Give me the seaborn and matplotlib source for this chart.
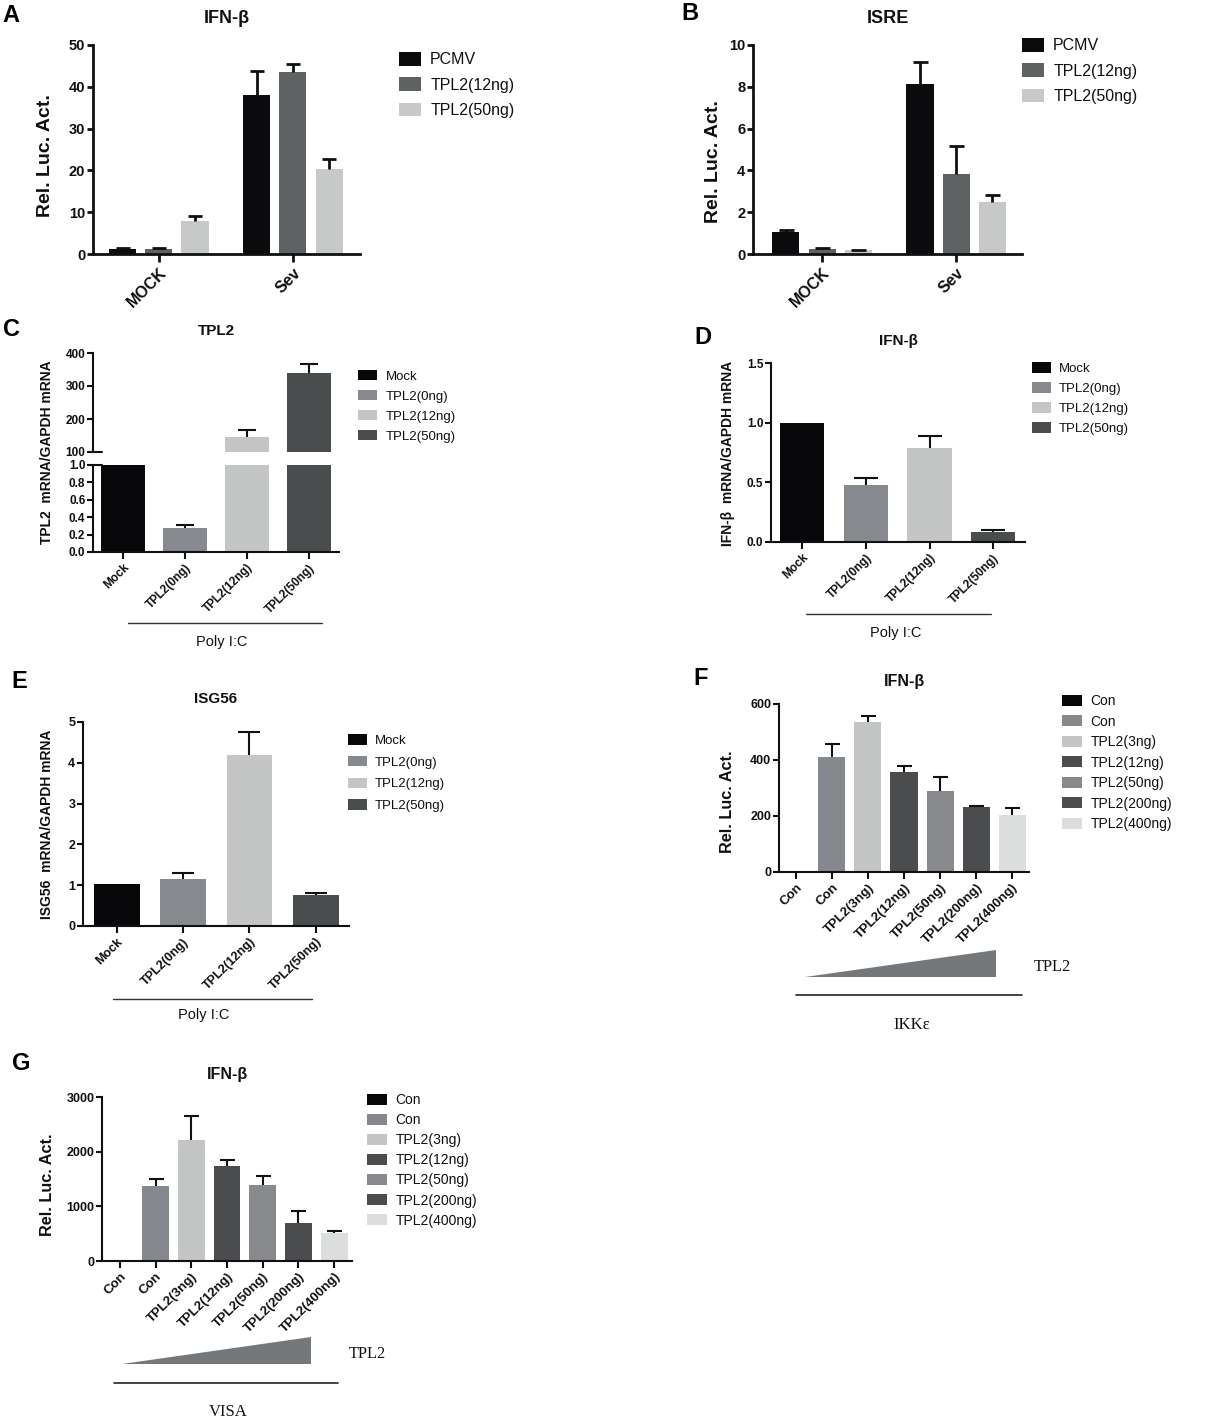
import numpy as np
import pandas as pd
import matplotlib
matplotlib.use("Agg")
import matplotlib.pyplot as plt
import matplotlib.transforms as mtransforms
from matplotlib.lines import Line2D
from matplotlib.patches import Polygon
import seaborn as sns

# ---------------- data ----------------
ab_groups = ["MOCK", "Sev"]
ab_series = ["PCMV", "TPL2(12ng)", "TPL2(50ng)"]
ab_colors = ["#0b0b0e", "#5f6263", "#c7c8c8"]
a_values = [[1.2, 38.0], [1.1, 43.5], [8.0, 20.4]]
a_errors = [[0.3, 5.7], [0.3, 2.0], [1.1, 2.3]]
b_values = [[1.07, 8.13], [0.24, 3.84], [0.17, 2.47]]
b_errors = [[0.08, 1.07], [0.03, 1.34], [0.01, 0.35]]

pic_labels = ["Mock", "TPL2(0ng)", "TPL2(12ng)", "TPL2(50ng)"]
pic_colors = ["#07070a", "#86898d", "#c4c5c5", "#4a4d4e"]
c_values = [1.0, 0.275, 145.0, 338.0]
c_errors = [0.0, 0.03, 23.0, 29.0]
d_values = [1.0, 0.478, 0.79, 0.087]
d_errors = [0.0, 0.061, 0.095, 0.016]
e_values = [1.02, 1.15, 4.18, 0.75]
e_errors = [0.0, 0.15, 0.57, 0.05]

dose_labels = ["Con", "Con", "TPL2(3ng)", "TPL2(12ng)", "TPL2(50ng)", "TPL2(200ng)", "TPL2(400ng)"]
dose_colors = ["#07070a", "#85888c", "#c4c5c5", "#4a4c4e", "#87898d", "#4a4c4e", "#dcdddd"]
f_values = [1, 409, 535, 356, 290, 232, 202]
f_errors = [0, 49, 23, 21, 48, 3, 26]
g_values = [3, 1372, 2210, 1743, 1390, 704, 516]
g_errors = [0, 134, 449, 103, 170, 219, 37]

# ---------------- setup ----------------
sns.set_theme(style="ticks")
plt.rcParams["font.family"] = ["Liberation Sans", "DejaVu Sans"]
SERIF = ["Liberation Serif", "DejaVu Serif"]

W, H = 1220, 1419
fig = plt.figure(figsize=(W / 100, H / 100), dpi=100)
px = mtransforms.Affine2D().scale(1 / W, -1 / H).translate(0, 1) + fig.transFigure
INK = "#101012"


def ax_px(l, t, r, b):
    return fig.add_axes([l / W, 1 - b / H, (r - l) / W, (b - t) / H])


def style_axes(ax, lw, ylen=4, xlen=5):
    sns.despine(ax=ax)
    for s in ("left", "bottom"):
        ax.spines[s].set_linewidth(lw)
        ax.spines[s].set_color(INK)
    ax.tick_params(axis="y", length=ylen, width=lw, color=INK, pad=1.5)
    ax.tick_params(axis="x", length=xlen, width=lw, color=INK, pad=2)
    ax.set_xlabel("")
    ax.set_facecolor("none")


def rot_labels(ax, labels, fs):
    ax.set_xticks(range(len(labels)))
    ax.set_xticklabels(labels, fontsize=fs, fontweight="bold", color=INK)
    for lab in ax.get_xticklabels():
        lab.set_rotation(45)
        lab.set_ha("right")
        lab.set_rotation_mode("anchor")


def ytick_style(ax, fs):
    for lab in ax.get_yticklabels():
        lab.set_fontsize(fs)
        lab.set_fontweight("bold")
        lab.set_color(INK)


def add_errors(ax, bars_errs, lw, cap):
    for (x, top, err) in bars_errs:
        if err <= 0:
            continue
        _, caps, _ = ax.errorbar([x], [top], yerr=[[0], [err]], fmt="none", ecolor=INK,
                                 elinewidth=lw, capsize=cap, capthick=lw, zorder=3,
                                 clip_on=False)
        if len(caps) == 2:
            caps[0].set_visible(False)


def single_bars(ax, values, colors, width):
    keys = [str(i) for i in range(len(values))]
    df = pd.DataFrame({"k": keys, "v": values})
    sns.barplot(data=df, x="k", y="v", hue="k", order=keys, hue_order=keys,
                palette=colors, width=width, saturation=1, errorbar=None,
                legend=False, ax=ax)
    out = []
    for i, cont in enumerate(ax.containers):
        for p in cont:
            p.set_edgecolor("none")
            out.append((p.get_x() + p.get_width() / 2, p.get_height(), i))
    return out


def legend_px(ax, handles, labels, x, y, fs, hl, hh, ls, tp):
    ax.legend(handles, labels, loc="upper left", bbox_to_anchor=(x, y),
              bbox_transform=px, frameon=False, borderpad=0, borderaxespad=0,
              fontsize=fs, handlelength=hl, handleheight=hh, labelspacing=ls,
              handletextpad=tp, labelcolor=INK)


def letter(x, y, s):
    fig.text(x / W, 1 - y / H, s, ha="center", va="center", fontsize=17,
             fontweight="bold", color="black")


# ---------------- panels A & B ----------------
def grouped(box, values, errors, xlim, ylim, yticks, title, letter_xy, letter_s,
            leg_xy, ylab_xy, cap):
    ax = ax_px(*box)
    rows = []
    for si, s in enumerate(ab_series):
        for gi, g in enumerate(ab_groups):
            rows.append({"group": g, "series": s, "v": values[si][gi]})
    df = pd.DataFrame(rows)
    sns.barplot(data=df, x="group", y="v", hue="series", order=ab_groups,
                hue_order=ab_series, palette=ab_colors, width=0.81, gap=0.25,
                saturation=1, errorbar=None, legend=False, ax=ax)
    errs = []
    handles = []
    for si, cont in enumerate(ax.containers):
        handles.append(cont[0])
        for gi, p in enumerate(cont):
            p.set_edgecolor("none")
            errs.append((p.get_x() + p.get_width() / 2, p.get_height(), errors[si][gi]))
    add_errors(ax, errs, 2.0, cap)
    ax.set_xlim(*xlim)
    ax.set_ylim(*ylim)
    ax.set_yticks(yticks)
    style_axes(ax, 2.0, ylen=4, xlen=6)
    rot_labels(ax, ab_groups, 11.5)
    ytick_style(ax, 10.5)
    ax.set_ylabel("Rel. Luc. Act.", fontsize=14, fontweight="bold", color=INK, va="center")
    ax.yaxis.set_label_coords(*ylab_xy, transform=px)
    ax.set_title(title, fontsize=13, fontweight="bold", pad=16, color=INK)
    legend_px(ax, handles, ab_series, leg_xy[0], leg_xy[1], 11.5, 1.35, 0.95, 0.62, 0.6)
    letter(*letter_xy, letter_s)
    return ax


grouped((93, 45, 360, 254), a_values, a_errors, (-0.49, 1.50), (0, 50),
        [0, 10, 20, 30, 40, 50], "IFN-β", (11, 15), "A", (399, 52), (46, 156), 4.7)
grouped((753, 45, 1022, 254), b_values, b_errors, (-0.515, 1.49), (0, 10),
        [0, 2, 4, 6, 8, 10], "ISRE", (690, 14), "B", (1022, 38), (713, 162), 5.4)

# ---------------- panel C (broken axis) ----------------
axc_t = ax_px(93, 353, 339, 452)
axc_b = ax_px(93, 465, 339, 552)
for ax_, ylim in ((axc_t, (100, 400)), (axc_b, (0, 1.0))):
    info = single_bars(ax_, c_values, pic_colors, 0.7)
    errs = [(x, c_values[i], c_errors[i]) for (x, h, i) in info
            if (ylim[0] > 1 and c_values[i] > ylim[0]) or (ylim[0] == 0 and c_values[i] < 1.0)]
    add_errors(ax_, errs, 1.5, 6.5)
    ax_.set_xlim(-0.48, 3.48)
    ax_.set_ylim(*ylim)
    style_axes(ax_, 1.5, ylen=4, xlen=5)
axc_t.set_yticks([100, 200, 300, 400])
axc_t.spines["bottom"].set_visible(False)
axc_t.tick_params(axis="x", bottom=False, labelbottom=False)
axc_t.set_ylabel("")
ytick_style(axc_t, 8.5)
axc_b.set_yticks([0.0, 0.2, 0.4, 0.6, 0.8, 1.0])
ytick_style(axc_b, 8.5)
rot_labels(axc_b, pic_labels, 8.5)
axc_b.set_ylabel("TPL2  mRNA/GAPDH mRNA", fontsize=10, fontweight="bold", color=INK, va="center")
axc_b.yaxis.set_label_coords(47, 452, transform=px)
axc_t.set_title("TPL2", fontsize=11, fontweight="bold", pad=13, color=INK)
legend_px(axc_b, [c[0] for c in axc_b.containers[:4]], pic_labels, 358, 370,
          9.5, 1.44, 0.83, 0.55, 0.68)
letter(11, 330, "C")
# small break marks on the broken axis
for ax_, yv in ((axc_t, 100), (axc_b, 1.0)):
    ax_.plot([0, 0.035], [yv, yv], transform=ax_.get_yaxis_transform(), color=INK,
             lw=1.5, clip_on=False)
fig.add_artist(Line2D([128, 322], [623, 623], transform=px, color="#333333", lw=1.0))
fig.text(222 / W, 1 - 642 / H, "Poly I:C", ha="center", va="center", fontsize=10.5, color=INK)

# ---------------- panels D, E, F, G ----------------
def simple_panel(box, values, errors, labels, colors, xlim, ylim, yticks, width,
                 title, ylab, ylab_xy, ylab_fs, title_fs, title_pad, leg_xy,
                 leg_fs, leg_ls, letter_xy, letter_s, cap, xfs=8.5, yfs=8.5):
    ax = ax_px(*box)
    info = single_bars(ax, values, colors, width)
    add_errors(ax, [(x, values[i], errors[i]) for (x, h, i) in info], 1.5, cap)
    ax.set_xlim(*xlim)
    ax.set_ylim(*ylim)
    ax.set_yticks(yticks)
    style_axes(ax, 1.5, ylen=4, xlen=5)
    rot_labels(ax, labels, xfs)
    ytick_style(ax, yfs)
    ax.set_ylabel(ylab, fontsize=ylab_fs, fontweight="bold", color=INK, va="center")
    ax.yaxis.set_label_coords(*ylab_xy, transform=px)
    ax.set_title(title, fontsize=title_fs, fontweight="bold", pad=title_pad, color=INK)
    legend_px(ax, [c[0] for c in ax.containers[:len(values)]], labels,
              leg_xy[0], leg_xy[1], leg_fs, 1.44, 0.85, leg_ls, 0.62)
    letter(*letter_xy, letter_s)
    return ax


simple_panel((771, 363, 1025, 542), d_values, d_errors, pic_labels, pic_colors,
             (-0.49, 3.5), (0, 1.5), [0.0, 0.5, 1.0, 1.5], 0.7, "IFN-β",
             "IFN-β  mRNA/GAPDH mRNA", (728, 453), 10, 11, 13, (1032, 362),
             9.5, 0.55, (703, 337), "D", 8.3)
fig.add_artist(Line2D([806, 991], [614, 614], transform=px, color="#333333", lw=1.0))
fig.text(896 / W, 1 - 633 / H, "Poly I:C", ha="center", va="center", fontsize=10.5, color=INK)

simple_panel((83, 722, 349, 926), e_values, e_errors, pic_labels, pic_colors,
             (-0.51, 3.5), (0, 5), [0, 1, 2, 3, 4, 5], 0.69, "ISG56",
             "ISG56  mRNA/GAPDH mRNA", (47, 824), 10, 11, 13.7, (348, 734),
             9.5, 0.68, (19, 681), "E", 8.0, xfs=9, yfs=9)
fig.add_artist(Line2D([113, 312], [999, 999], transform=px, color="#333333", lw=1.0))
fig.text(204 / W, 1 - 1015 / H, "Poly I:C", ha="center", va="center", fontsize=10.5, color=INK)

simple_panel((779, 704, 1029, 872), f_values, f_errors, dose_labels, dose_colors,
             (-0.47, 6.47), (0, 600), [0, 200, 400, 600], 0.75, "IFN-β",
             "Rel. Luc. Act.", (727, 802), 11.7, 11.5, 13, (1062, 694),
             10, 0.47, (701, 679), "F", 5.4, xfs=9.5, yfs=9)
fig.add_artist(Polygon([[805, 977], [996, 977], [996, 950]], closed=True,
                       transform=px, facecolor="#75787a", edgecolor="none"))
fig.text(1052 / W, 1 - 967 / H, "TPL2", ha="center", va="center", fontsize=11.7,
         family=SERIF, color=INK)
fig.add_artist(Line2D([796, 1022], [995, 995], transform=px, color="#222222", lw=1.2))
fig.text(912 / W, 1 - 1025 / H, "IKKε", ha="center", va="center", fontsize=12,
         family=SERIF, color=INK)

simple_panel((102, 1097, 352, 1261), g_values, g_errors, dose_labels, dose_colors,
             (-0.5, 6.5), (0, 3000), [0, 1000, 2000, 3000], 0.75, "IFN-β",
             "Rel. Luc. Act.", (48, 1185), 11.7, 11.5, 13, (367, 1093),
             10, 0.44, (21, 1063), "G", 5.4, xfs=9.5, yfs=9)
fig.add_artist(Polygon([[122, 1364], [311, 1364], [311, 1337]], closed=True,
                       transform=px, facecolor="#75787a", edgecolor="none"))
fig.text(367 / W, 1 - 1354 / H, "TPL2", ha="center", va="center", fontsize=11.7,
         family=SERIF, color=INK)
fig.add_artist(Line2D([114, 338], [1383, 1383], transform=px, color="#222222", lw=1.2))
fig.text(228 / W, 1 - 1412 / H, "VISA", ha="center", va="center", fontsize=12,
         family=SERIF, color=INK)

fig.savefig("out.png", dpi=100, facecolor="white")
